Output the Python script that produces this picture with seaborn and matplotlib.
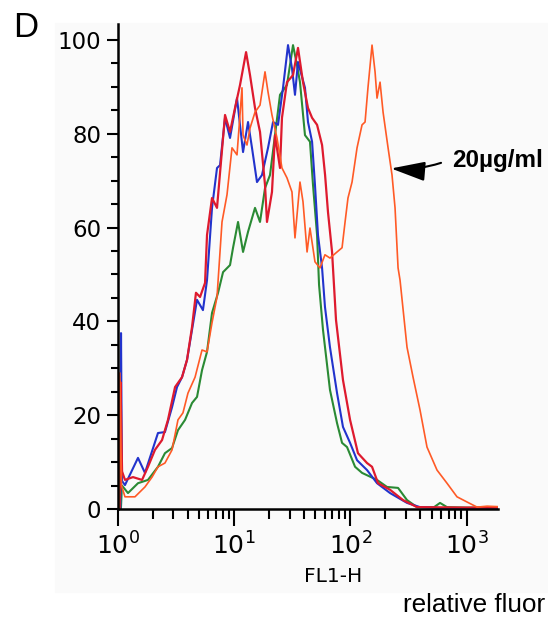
import matplotlib
matplotlib.use('Agg')
import matplotlib.pyplot as plt
import matplotlib.ticker as mticker
import numpy as np
import pandas as pd
import seaborn as sns
from matplotlib.patches import Rectangle

# histogram traces; x given as log10(FL1-H), y as counts (% of max)
blue_log = [0.0, 0.02, 0.026, 0.034, 0.060, 0.172, 0.232, 0.344, 0.404, 0.465,
            0.508, 0.551, 0.594, 0.637, 0.680, 0.731, 0.766, 0.809, 0.852, 0.878,
            0.921, 0.964, 1.024, 1.076, 1.119, 1.153, 1.196, 1.239, 1.291, 1.334,
            1.377, 1.420, 1.463, 1.497, 1.523, 1.549, 1.609, 1.635, 1.670, 1.695,
            1.721, 1.756, 1.781, 1.824, 1.885, 1.936, 1.997, 2.057, 2.143, 2.229,
            2.341, 2.487, 2.599, 2.771, 3.0, 3.27]
blue_y = [0, 0, 37.5, 6.0, 5.1, 10.9, 7.7, 16.2, 16.4, 21.7,
          26.0, 28.1, 31.8, 38.2, 44.6, 42.4, 48.8, 64.2, 72.7, 73.3,
          83.4, 79.1, 87.6, 76.1, 82.5, 77.0, 69.7, 71.2, 77.0, 82.5,
          81.9, 89.8, 98.9, 94.0, 88.3, 95.3, 89.8, 82.5, 78.3, 69.1,
          58.4, 51.4, 43.1, 34.5, 24.7, 17.5, 14.1, 10.4, 8.3, 5.5,
          3.4, 1.3, 0.4, 0.2, 0.2, 0.2]

red_log = [0.0, 0.015, 0.022, 0.035, 0.060, 0.129, 0.207, 0.258, 0.318, 0.379,
           0.430, 0.491, 0.551, 0.594, 0.637, 0.671, 0.706, 0.749, 0.766, 0.809,
           0.852, 0.921, 0.964, 1.007, 1.050, 1.102, 1.136, 1.179, 1.222, 1.265,
           1.282, 1.325, 1.351, 1.394, 1.411, 1.454, 1.506, 1.549, 1.592, 1.635,
           1.670, 1.713, 1.756, 1.782, 1.807, 1.842, 1.876, 1.936, 1.997, 2.065,
           2.143, 2.186, 2.238, 2.341, 2.453, 2.573, 3.0, 3.27]
red_y = [0, 0, 27.0, 8.0, 6.2, 6.8, 6.2, 9.0, 12.6, 14.7,
         19.0, 26.0, 28.1, 31.8, 38.8, 46.1, 45.2, 48.2, 58.4, 66.3,
         64.2, 84.0, 80.4, 85.5, 90.4, 97.4, 92.5, 85.5, 80.4, 69.1,
         61.2, 67.6, 79.7, 72.7, 83.4, 91.0, 92.5, 98.3, 91.0, 85.5,
         83.4, 81.9, 77.6, 71.2, 63.3, 54.8, 40.3, 27.5, 19.0, 11.9,
         9.8, 9.0, 5.5, 4.1, 1.9, 0.4, 0.3, 0.3]

green_log = [0.0, 0.025, 0.034, 0.086, 0.172, 0.258, 0.344, 0.404, 0.465, 0.516,
             0.577, 0.637, 0.680, 0.723, 0.766, 0.809, 0.861, 0.904, 0.964, 0.990,
             1.033, 1.076, 1.119, 1.179, 1.222, 1.265, 1.308, 1.351, 1.394, 1.454,
             1.506, 1.540, 1.566, 1.609, 1.652, 1.678, 1.713, 1.730, 1.764, 1.824,
             1.885, 1.928, 1.971, 2.040, 2.100, 2.229, 2.315, 2.410, 2.487, 2.573,
             2.720, 2.771, 2.831, 3.0, 3.27]
green_y = [0, 0, 5.0, 3.4, 5.5, 6.2, 9.0, 11.9, 13.0, 16.8,
           19.0, 22.6, 23.9, 29.6, 33.5, 41.8, 46.1, 50.5, 52.0, 55.7,
           61.2, 54.8, 59.1, 64.2, 61.2, 68.4, 71.2, 79.7, 88.3, 90.4,
           98.9, 94.7, 91.0, 79.7, 78.3, 69.1, 58.4, 47.8, 38.2, 25.4,
           18.3, 14.1, 13.2, 9.0, 7.7, 6.2, 4.7, 4.5, 1.9, 0.4,
           0.4, 1.3, 0.4, 0.3, 0.3]

orange_log = [0.0, 0.010, 0.016, 0.030, 0.060, 0.146, 0.232, 0.293, 0.344, 0.404,
              0.465, 0.516, 0.559, 0.602, 0.663, 0.723, 0.766, 0.809, 0.852, 0.895,
              0.938, 0.981, 1.024, 1.067, 1.076, 1.110, 1.136, 1.179, 1.222, 1.265,
              1.291, 1.325, 1.368, 1.411, 1.454, 1.497, 1.523, 1.566, 1.592, 1.627,
              1.652, 1.695, 1.738, 1.781, 1.824, 1.885, 1.928, 1.954, 1.979, 2.014,
              2.057, 2.100, 2.126, 2.151, 2.186, 2.212, 2.229, 2.255, 2.281, 2.324,
              2.358, 2.384, 2.410, 2.427, 2.487, 2.539, 2.599, 2.659, 2.745, 2.831,
              2.917, 3.003, 3.090, 3.176, 3.27]
orange_y = [0, 0, 29.0, 5.0, 2.6, 2.6, 4.7, 6.8, 9.0, 9.8,
            12.6, 19.0, 20.5, 24.7, 28.1, 33.9, 33.5, 39.7, 45.2, 61.2,
            67.0, 77.0, 75.5, 89.8, 79.7, 77.6, 81.2, 84.6, 86.1, 93.2,
            88.9, 84.0, 79.1, 72.7, 70.6, 67.6, 57.8, 69.7, 65.5, 54.8,
            59.9, 52.7, 51.4, 54.2, 53.5, 54.8, 55.7, 61.2, 66.3, 69.7,
            77.0, 81.9, 82.5, 89.8, 98.9, 93.2, 87.6, 91.0, 84.6, 77.0,
            71.2, 64.2, 51.4, 48.8, 34.5, 28.1, 21.1, 13.2, 8.3, 5.5,
            2.6, 1.5, 0.4, 0.6, 0.5]

samples = ['green', 'blue', 'red', '20µg/ml']
colors = {'green': '#2a8a34', 'blue': '#2233cc', 'red': '#de1a2e', '20µg/ml': '#ff5a26'}
widths = {'green': 1.5, 'blue': 1.5, 'red': 1.6, '20µg/ml': 1.2}

traces = {'green': (green_log, green_y), 'blue': (blue_log, blue_y),
          'red': (red_log, red_y), '20µg/ml': (orange_log, orange_y)}
frames = []
for name in samples:
    logs, ys = traces[name]
    frames.append(pd.DataFrame({'FL1-H': 10 ** np.array(logs), 'count': ys,
                                'sample': name}))
df = pd.concat(frames, ignore_index=True)

sns.set_style('ticks')
plt.rcParams['font.family'] = ['DejaVu Sans']
plt.rcParams['text.color'] = 'black'
plt.rcParams['axes.labelcolor'] = 'black'
plt.rcParams['xtick.color'] = 'black'
plt.rcParams['ytick.color'] = 'black'

fig = plt.figure(figsize=(5.48, 6.22), dpi=100)
# faint grey scan area behind the plot
fig.patches.append(Rectangle((55 / 548, 1 - 592 / 622), 493 / 548, 569 / 622,
                             transform=fig.transFigure, color='#fafafa', zorder=-10))
ax = fig.add_axes([118 / 548, 1 - 509 / 622, 380 / 548, 485 / 622])
ax.set_facecolor('none')
ax.set_zorder(1)

for name in samples:
    sub = df[df['sample'] == name]
    sns.lineplot(data=sub, x='FL1-H', y='count', color=colors[name],
                 linewidth=widths[name], sort=False, estimator=None, ax=ax)

ax.set_xscale('log')
ax.set_xlim(1, 1862)
ax.set_ylim(0, 103.4)
ax.set_yticks([0, 20, 40, 60, 80, 100])
ax.yaxis.set_minor_locator(mticker.MultipleLocator(5))
ax.xaxis.set_major_locator(mticker.LogLocator(base=10))
ax.xaxis.set_minor_locator(mticker.LogLocator(base=10, subs=np.arange(2, 10)))
ax.xaxis.set_major_formatter(mticker.LogFormatterMathtext())
ax.xaxis.set_minor_formatter(mticker.NullFormatter())

ax.tick_params(axis='x', which='major', length=12, width=1.5, pad=5, labelsize=18)
ax.tick_params(axis='x', which='minor', length=7, width=1.5)
ax.tick_params(axis='y', which='major', length=8, width=1.5, pad=4, labelsize=16.5)
ax.tick_params(axis='y', which='minor', length=5, width=1.5)
for s in ['left', 'bottom']:
    ax.spines[s].set_linewidth(1.8)
    ax.spines[s].set_color('black')
ax.spines['top'].set_visible(False)
ax.spines['right'].set_visible(False)

ax.set_ylabel('')
ax.set_xlabel('FL1-H', fontsize=14.5)
ax.xaxis.set_label_coords(0.566, -0.12)

# arrow pointing at the shifted trace
ax.annotate('', xy=(10 ** 2.35, 72.6), xytext=(10 ** 2.78, 73.8),
            arrowprops=dict(arrowstyle='-|>,head_length=2.1,head_width=0.6',
                            color='black', lw=1.5, shrinkA=0, shrinkB=0,
                            connectionstyle='arc3,rad=-0.1'),
            annotation_clip=False)
fig.text(452 / 548, 1 - 167 / 622, '20µg/ml', fontsize=17.5, fontweight='bold',
         family='Liberation Sans', ha='left', va='baseline')

fig.text(13 / 548, 1 - 37 / 622, 'D', fontsize=25, family='Liberation Sans',
         ha='left', va='baseline')
fig.text(403 / 548, 1 - 612 / 622, 'relative fluor', fontsize=18.8,
         family='Liberation Sans', ha='left', va='baseline')

plt.savefig('out.png', dpi=100)
plt.close()
